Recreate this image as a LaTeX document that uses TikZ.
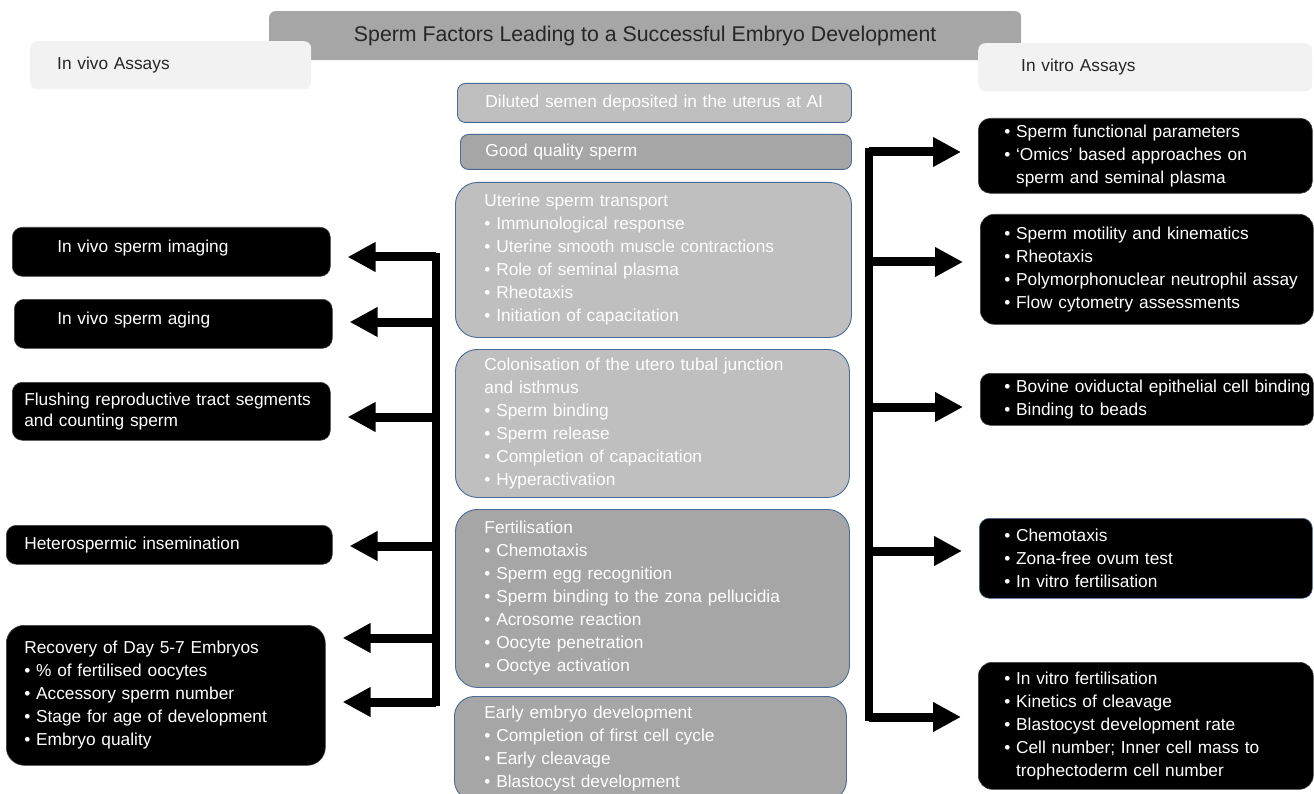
\documentclass[tikz,border=0pt]{standalone}
\usepackage{fontspec}
\setmainfont{Liberation Sans}
\usetikzlibrary{arrows.meta}
\definecolor{headgray}{HTML}{F2F2F2}
\definecolor{titlegray}{HTML}{A6A6A6}
\definecolor{lightstage}{HTML}{BFBFBF}
\definecolor{darkstage}{HTML}{A6A6A6}
\definecolor{edgeblue}{HTML}{4A6A96}
\definecolor{inktext}{HTML}{262626}

\begin{document}
\begin{tikzpicture}[x=1pt,y=-1pt,
	every node/.style={font=\fontsize{17.3}{23}\selectfont},
	heading/.style={fill=headgray, text=inktext, rounded corners=7pt, anchor=north west, align=left, inner ysep=0pt},
	stage/.style={draw=edgeblue, line width=0.9pt, text=white, rounded corners=8pt, anchor=north west, align=left, inner ysep=0pt},
	assay/.style={fill=black, draw=black!75, line width=0.6pt, text=white, rounded corners=10pt, anchor=north west, align=left, inner ysep=0pt},
	spine/.style={line width=8pt, line cap=rect},
	fatarrow/.style={line width=9pt, -{Triangle[length=28pt,width=28pt]}, shorten >=17pt}]
	\useasboundingbox (0,0) rectangle (1314,794);
	\clip (0,0) rectangle (1314,794);
	\node[heading, fill=titlegray, rounded corners=6pt, minimum width=752pt, minimum height=49pt, font=\fontsize{21.3}{26}\selectfont] (title) at (269,11) {Sperm Factors Leading to a Successful Embryo Development};
	\node[heading, text width=227pt, inner xsep=27pt, minimum height=48pt] (vivo) at (30,41) {In vivo Assays};
	\node[heading, text width=248pt, inner xsep=43pt, minimum height=48pt] (vitro) at (978,43) {In vitro Assays};
	
	\node[stage, fill=lightstage, text width=338pt, inner xsep=28pt, minimum height=39pt] (semen) at (457,83) {Diluted semen deposited in the uterus at AI};
	\node[stage, fill=darkstage, text width=341pt, inner xsep=25pt, minimum height=35pt] (quality) at (460,134) {Good quality sperm};
	\node[stage, fill=lightstage, rounded corners=22pt, text width=338pt, inner xsep=29pt, minimum height=155pt] (transport) at (455,182) {Uterine sperm transport\\• Immunological response\\• Uterine smooth muscle contractions\\• Role of seminal plasma\\• Rheotaxis\\• Initiation of capacitation};
	\node[stage, fill=lightstage, rounded corners=22pt, text width=336pt, inner xsep=29pt, minimum height=148pt] (colonise) at (455,349) {Colonisation of the utero tubal junction\\and isthmus\\• Sperm binding\\• Sperm release\\• Completion of capacitation\\• Hyperactivation};
	\node[stage, fill=darkstage, rounded corners=22pt, text width=336pt, inner xsep=29pt, minimum height=178pt] (fertilise) at (455,509) {Fertilisation\\• Chemotaxis\\• Sperm egg recognition\\• Sperm binding to the zona pellucidia\\• Acrosome reaction\\• Oocyte penetration\\• Ooctye activation};
	\node[stage, fill=darkstage, rounded corners=20pt, text width=332pt, inner xsep=30pt, minimum height=104pt] (early) at (454,696) {Early embryo development\\• Completion of first cell cycle\\• Early cleavage\\• Blastocyst development};
	
	\node[assay, text width=228pt, inner xsep=45pt, minimum height=49pt, text depth=12pt] (imaging) at (12,227) {In vivo sperm imaging};
	\node[assay, text width=232pt, inner xsep=43pt, minimum height=49pt, text depth=12pt] (aging) at (14,299) {In vivo sperm aging};
	\node[assay, text width=294pt, inner xsep=12pt, minimum height=58pt, font=\fontsize{17.3}{20.7}\selectfont] (flushing) at (12,382) {Flushing reproductive tract segments\\and counting sperm};
	\node[assay, text width=290pt, inner xsep=18pt, minimum height=39pt] (hetero) at (6,525) {Heterospermic insemination};
	\node[assay, rounded corners=18pt, text width=283pt, inner xsep=18pt, minimum height=140pt] (recovery) at (6,625) {Recovery of Day 5-7 Embryos\\• \% of fertilised oocytes\\• Accessory sperm number\\• Stage for age of development\\• Embryo quality};
	
	\node[assay, rounded corners=12pt, text width=282pt, inner xsep=26pt, minimum height=75pt] (functional) at (978,118) {• Sperm functional parameters\\• `Omics' based approaches on\\\phantom{• }sperm and seminal plasma};
	\node[assay, rounded corners=14pt, text width=285pt, inner xsep=24pt, minimum height=110pt] (motility) at (980,214) {• Sperm motility and kinematics\\• Rheotaxis\\\mbox{• Polymorphonuclear neutrophil assay}\\• Flow cytometry assessments};
	\node[assay, text width=285pt, inner xsep=24pt, minimum height=52pt] (binding) at (980,373) {\mbox{• Bovine oviductal epithelial cell binding}\\• Binding to beads};
	\node[assay, draw=edgeblue, text width=283pt, inner xsep=25pt, minimum height=80pt] (fertil) at (979,518) {• Chemotaxis\\• Zona-free ovum test\\• In vitro fertilisation};
	\node[assay, rounded corners=14pt, text width=283pt, inner xsep=26pt, minimum height=127pt] (embryo) at (978,662) {• In vitro fertilisation\\• Kinetics of cleavage\\• Blastocyst development rate\\• Cell number; Inner cell mass to\\\phantom{• }trophectoderm cell number};
	
	\coordinate (l1) at (436,257);
	\coordinate (l2) at (436,322);
	\coordinate (l3) at (436,417);
	\coordinate (l4) at (436,546);
	\coordinate (l5) at (436,638);
	\coordinate (l6) at (436,702);
	\coordinate (r1) at (869,152);
	\coordinate (r2) at (869,262);
	\coordinate (r3) at (869,407);
	\coordinate (r4) at (869,551);
	\coordinate (r5) at (869,717);
	\draw[spine] (l1) -- (l6);
	\draw[spine] (r1) -- (r5);
	\foreach \p/\n in {l1/imaging,l2/aging,l3/flushing,l4/hetero,l5/recovery,l6/recovery}
		\draw[fatarrow] (\p) -- (\p -| \n.east);
	\foreach \p/\n in {r1/functional,r2/motility,r3/binding,r4/fertil,r5/embryo}
		\draw[fatarrow] (\p) -- (\p -| \n.west);
\end{tikzpicture}
\end{document}
